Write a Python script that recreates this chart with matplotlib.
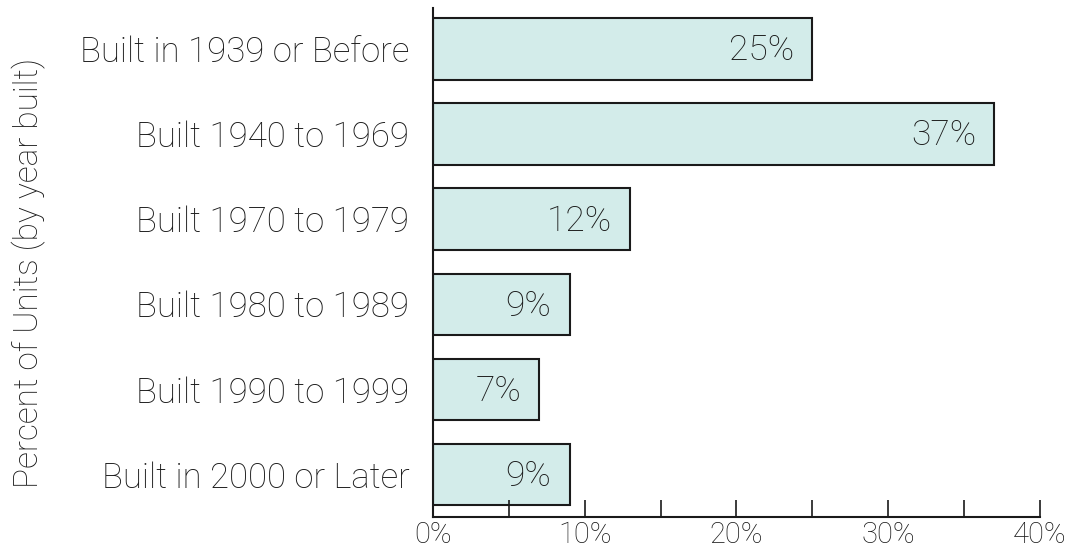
import matplotlib
matplotlib.use("Agg")
import matplotlib.pyplot as plt

categories = ["Built in 1939 or Before", "Built 1940 to 1969", "Built 1970 to 1979",
              "Built 1980 to 1989", "Built 1990 to 1999", "Built in 2000 or Later"]
values = [25, 37, 13, 9, 7, 9]
value_labels = ["25%", "37%", "12%", "9%", "7%", "9%"]
x_ticks = [0, 5, 10, 15, 20, 25, 30, 35, 40]
x_tick_labels = ["0%", "", "10%", "", "20%", "", "30%", "", "40%"]

plt.rcParams['font.family'] = ['Roboto', 'DejaVu Sans']
plt.rcParams['font.weight'] = 'light'

fig = plt.figure(figsize=(10.72, 5.52), dpi=100)
ax = fig.add_axes([0.404, 0.0634, 0.566, 0.922])

pos = list(range(len(categories)))
ax.barh(pos, values, height=0.72, color="#d3ecea", edgecolor="#1a1a1a", linewidth=1.5)
for p, v, lab in zip(pos, values, value_labels):
    ax.text(v - 1.2, p + 0.02, lab, ha="right", va="center", fontsize=25.5,
            color="#1a1a1a", fontweight="light")

ax.set_ylim(5.5, -0.48)
ax.set_xlim(0, 40)
ax.set_yticks(pos)
ax.set_yticklabels(categories, fontsize=25, color="#1a1a1a", fontweight="light")
ax.tick_params(axis="y", length=0, pad=17)
ax.set_xticks(x_ticks)
ax.set_xticklabels(x_tick_labels, fontsize=21, color="#1a1a1a", fontweight="light")
ax.tick_params(axis="x", direction="in", length=12, width=1.2, pad=3, color="#1a1a1a")
for s in ["top", "right"]:
    ax.spines[s].set_visible(False)
for s in ["left", "bottom"]:
    ax.spines[s].set_linewidth(1.5)
    ax.spines[s].set_color("#1a1a1a")

fig.text(0.027, 0.505, "Percent of Units (by year built)", rotation=90, ha="center", va="center",
         fontsize=24, color="#1a1a1a", fontweight="light")

fig.savefig("out.png", dpi=100)
